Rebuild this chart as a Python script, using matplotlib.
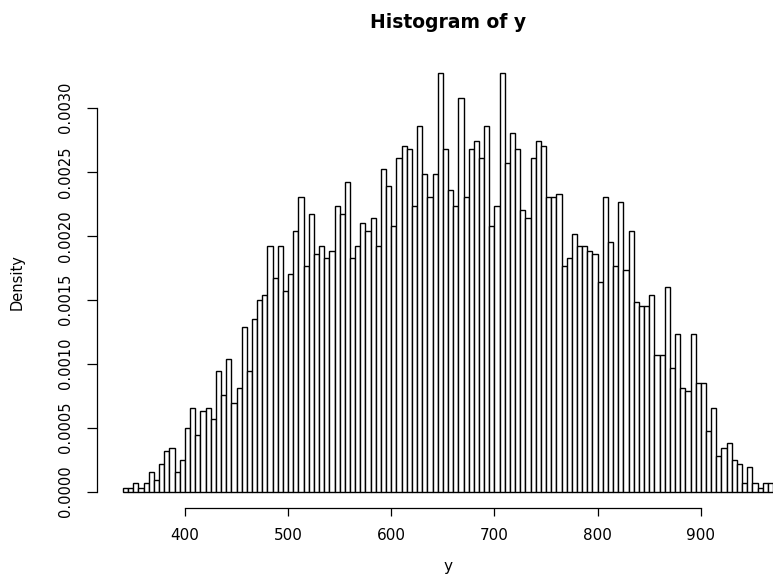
# Histogram of y, R-style base graphics look

import matplotlib.pyplot as plt
import numpy as np

plt.rcParams['font.family'] = ['DejaVu Sans']

# bin breaks (width 5) and density per bin (x 1e-4)
breaks = np.arange(340, 975, 5)
density_e4 = [
    0.3, 0.3, 0.65, 0.3, 0.65, 1.56, 0.9, 2.2, 3.2, 3.45,
    1.56, 2.5, 5.0, 6.57, 4.43, 6.29, 6.57, 5.66, 9.4, 7.56,
    10.35, 6.9, 8.1, 12.9, 9.4, 13.5, 15.0, 15.4, 19.2, 16.7,
    19.2, 15.7, 17.0, 20.4, 23.0, 17.6, 21.7, 18.6, 19.2, 18.3,
    18.8, 22.3, 21.7, 24.2, 18.3, 19.2, 21.0, 20.4, 21.4, 19.2,
    25.2, 23.9, 20.8, 26.1, 27.0, 26.8, 22.3, 28.6, 24.8, 23.0,
    24.8, 32.7, 26.8, 23.6, 22.3, 30.8, 23.0, 26.8, 27.4, 26.1,
    28.6, 20.8, 22.3, 32.7, 25.7, 28.0, 26.8, 22.0, 21.4, 26.1,
    27.4, 27.0, 23.0, 23.0, 23.3, 17.6, 18.3, 20.1, 19.2, 19.2,
    18.8, 18.6, 16.4, 23.0, 19.5, 17.6, 22.6, 17.3, 20.4, 14.8,
    14.5, 14.5, 15.4, 10.7, 10.7, 16.0, 9.7, 12.3, 8.1, 7.85,
    12.3, 8.5, 8.5, 4.75, 6.57, 2.8, 3.45, 3.8, 2.5, 2.2,
    0.65, 1.9, 0.65, 0.3, 0.65, 0.65,
]
x_ticks = [400, 500, 600, 700, 800, 900]
y_ticks = [0.0000, 0.0005, 0.0010, 0.0015, 0.0020, 0.0025, 0.0030]

density = np.array(density_e4) * 1e-4

fig = plt.figure(figsize=(7.73, 5.79), dpi=100)
ax = fig.add_axes([0.1255, 0.1219, 0.9082, 0.7805])

ax.bar(breaks[:-1], density, width=5, align='edge',
       facecolor='white', edgecolor='black', linewidth=1.0)

# R extends the range by 4% on each side
xr = breaks[-1] - breaks[0]
yr = density.max()
ax.set_xlim(breaks[0] - 0.04 * xr, breaks[-1] + 0.04 * xr)
ax.set_ylim(-0.04 * yr, yr * 1.04)

for s in ['top', 'right']:
    ax.spines[s].set_visible(False)
ax.spines['left'].set_bounds(y_ticks[0], y_ticks[-1])
ax.spines['bottom'].set_bounds(x_ticks[0], x_ticks[-1])
ax.spines['left'].set_linewidth(0.9)
ax.spines['bottom'].set_linewidth(0.9)

ax.set_xticks(x_ticks)
ax.set_xticklabels([str(v) for v in x_ticks])
ax.set_yticks(y_ticks)
ax.set_yticklabels(['%.4f' % v for v in y_ticks], rotation=90, va='center')
ax.tick_params(axis='x', length=6, width=0.9, pad=8, labelsize=11)
ax.tick_params(axis='y', length=7, width=0.9, pad=10, labelsize=10.5)

fig.text(0.58, 0.962, 'Histogram of y', ha='center', va='center',
         fontsize=13.5, fontweight='bold')
fig.text(0.58, 0.021, 'y', ha='center', va='center', fontsize=11)
fig.text(0.022, 0.513, 'Density', ha='center', va='center',
         rotation=90, fontsize=10.5)

fig.savefig('out.png', dpi=100)
